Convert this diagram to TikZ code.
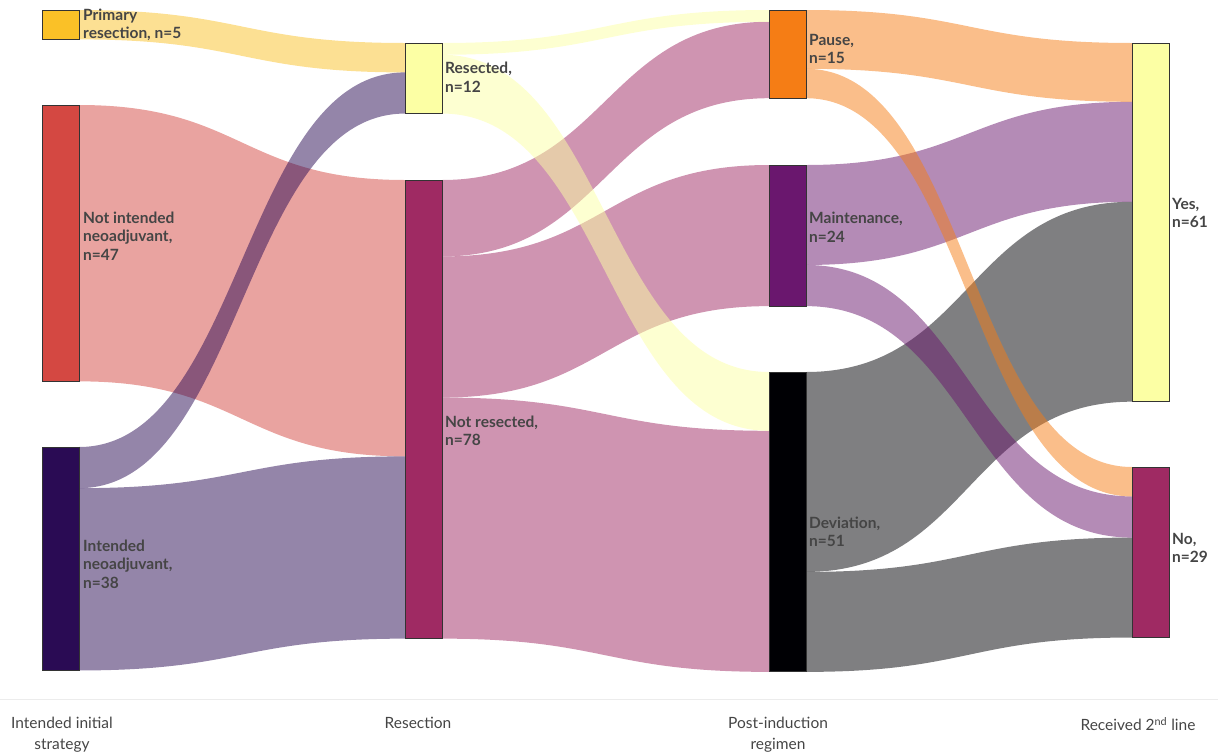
\documentclass[tikz,border=0pt]{standalone}
\usepackage{fontspec}
\setmainfont{Lato}
\usetikzlibrary{calc}
\definecolor{cPrim}{HTML}{FAC127}
\definecolor{cNotInt}{HTML}{D44842}
\definecolor{cInt}{HTML}{2A0B54}
\definecolor{cPale}{HTML}{FCFFA4}
\definecolor{cMag}{HTML}{9F2A63}
\definecolor{cPause}{HTML}{F57D15}
\definecolor{cMaint}{HTML}{6A176E}
\definecolor{cDev}{HTML}{000004}
\definecolor{txt}{HTML}{454545}
\definecolor{sep}{HTML}{ECECEC}
\def\su{5.88}
\newcommand\sflow[6]{%
  \coordinate (fa) at ($(#1.north east)+(0,#2*\su)$);
  \coordinate (fb) at ($(#3.north west)+(0,#4*\su)$);
  \coordinate (fc) at ($(fb)+(0,#5*\su)$);
  \coordinate (fd) at ($(fa)+(0,#5*\su)$);
  \coordinate (fm) at ($(fa)!.5!(fb)$);
  \fill[#6, fill opacity=.5] (fa) .. controls (fm |- fa) and (fm |- fb) .. (fb) -- (fc) .. controls (fm |- fc) and (fm |- fd) .. (fd) -- cycle;
}
\tikzset{
  nd/.style={draw=black!80, line width=0.9pt, inner sep=0pt, outer sep=0pt, minimum width=37pt, anchor=north west},
  lab/.style={anchor=west, align=left, text=txt, font=\fontsize{15.5}{18.5}\selectfont\bfseries, inner sep=0pt},
  axl/.style={align=center, text=txt, font=\fontsize{15.5}{21}\selectfont, inner sep=0pt}
}
\begin{document}
\begin{tikzpicture}[x=1pt, y=-1pt]
\useasboundingbox (0,0) rectangle (1218,753);
% nodes (placed first as coordinates; drawn later)
\path
  node[nd, minimum height={5*\su*1pt}] (prim) at (42,10) {}
  node[nd, minimum height={47*\su*1pt}] (notint) at (42,105) {}
  node[nd, minimum height={38*\su*1pt}] (int) at (42,447) {}
  node[nd, minimum height={12*\su*1pt}] (res) at (405,43) {}
  node[nd, minimum height={78*\su*1pt}] (notres) at (405,180) {}
  node[nd, minimum height={15*\su*1pt}] (pause) at (769,10) {}
  node[nd, minimum height={24*\su*1pt}] (maint) at (769,165) {}
  node[nd, minimum height={51*\su*1pt}] (dev) at (769,372) {}
  node[nd, minimum height={61*\su*1pt}] (yes) at (1132,43) {}
  node[nd, minimum height={29*\su*1pt}] (no) at (1132,467) {};
% flows
\sflow{notint}{0}{notres}{0}{47}{cNotInt}
\sflow{int}{7}{notres}{47}{31}{cInt}
\sflow{prim}{0}{res}{0}{5}{cPrim}
\sflow{int}{0}{res}{5}{7}{cInt}
\sflow{notres}{0}{pause}{2}{13}{cMag}
\sflow{notres}{13}{maint}{0}{24}{cMag}
\sflow{notres}{37}{dev}{10}{41}{cMag}
\sflow{res}{0}{pause}{0}{2}{cPale}
\sflow{res}{2}{dev}{0}{10}{cPale}
\sflow{pause}{0}{yes}{0}{10}{cPause}
\sflow{maint}{0}{yes}{10}{17}{cMaint}
\sflow{dev}{0}{yes}{27}{34}{cDev}
\sflow{dev}{34}{no}{12}{17}{cDev}
\sflow{maint}{17}{no}{5}{7}{cMaint}
\sflow{pause}{10}{no}{0}{5}{cPause}
% node boxes
\path
  node[nd, fill=cPrim, minimum height={5*\su*1pt}] at (42,10) {}
  node[nd, fill=cNotInt, minimum height={47*\su*1pt}] at (42,105) {}
  node[nd, fill=cInt, minimum height={38*\su*1pt}] at (42,447) {}
  node[nd, fill=cPale, minimum height={12*\su*1pt}] at (405,43) {}
  node[nd, fill=cMag, minimum height={78*\su*1pt}] at (405,180) {}
  node[nd, fill=cPause, minimum height={15*\su*1pt}] at (769,10) {}
  node[nd, fill=cMaint, minimum height={24*\su*1pt}] at (769,165) {}
  node[nd, fill=cDev, minimum height={51*\su*1pt}] at (769,372) {}
  node[nd, fill=cPale, minimum height={61*\su*1pt}] at (1132,43) {}
  node[nd, fill=cMag, minimum height={29*\su*1pt}] at (1132,467) {};
% labels
\node[lab] (lprim) at (83,25) {Primary\\resection, n=5};
\node[lab] (lnotint) at (83,236) {Not intended\\neoadjuvant,\\n=47};
\node[lab] (lint) at (83,564) {Intended\\neoadjuvant,\\n=38};
\node[lab] (lres) at (445,77) {Resected,\\n=12};
\node[lab] (lnotres) at (445,431) {Not resected,\\n=78};
\node[lab] (lpause) at (809,49) {Pause,\\n=15};
\node[lab] (lmaint) at (809,227) {Maintenance,\\n=24};
\node[lab] (ldev) at (809,532) {Deviation,\\n=51};
\node[lab] (lyes) at (1172,213) {Yes,\\n=61};
\node[lab] (lno) at (1172,548) {No,\\n=29};
% separator and axis labels
\coordinate (sl) at (0,699);
\coordinate (sr) at (1218,699);
\draw[sep, line width=0.8pt] (sl) -- (sr);
\node[axl, anchor=north] (a1) at (62,717) {Intended initial\\strategy};
\node[axl, anchor=north] (a2) at (418,717) {Resection};
\node[axl, anchor=north] (a3) at (778,717) {Post-induction\\regimen};
\node[axl, anchor=north] (a4) at (1138,717) {Received 2\textsuperscript{nd} line};
\end{tikzpicture}
\end{document}
